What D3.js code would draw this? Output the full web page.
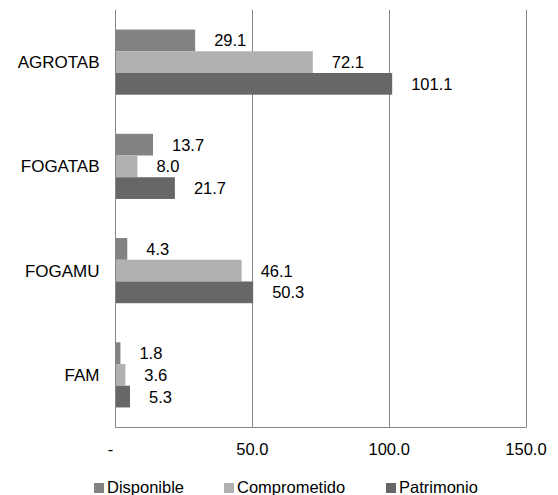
<!DOCTYPE html>
<html><head><meta charset="utf-8">
<script src="https://cdn.jsdelivr.net/npm/d3@7"></script>
<style>body{margin:0;background:#fff}svg{display:block;font-family:"Liberation Sans",Arial,sans-serif}</style>
</head><body>
<svg id="c" width="558" height="495"></svg>
<script>
const categories = ["AGROTAB","FOGATAB","FOGAMU","FAM"];
const seriesNames = ["Disponible","Comprometido","Patrimonio"];
const disponible = [29.1,13.7,4.3,1.8];
const comprometido = [72.1,8.0,46.1,3.6];
const patrimonio = [101.1,21.7,50.3,5.3];
const xTicks = [0,50,100,150];
const colors = ["#828282","#b1b1b1","#676767"];
const seriesValues = [disponible, comprometido, patrimonio];

(function(){
const svg = d3.select("#c");
const fs = 16.5;
const pL = 115.5, pR = 526, pT = 10, pB = 427;
const x = d3.scaleLinear().domain([0,150]).range([pL,pR]);
const y0 = d3.scaleBand().domain(categories).range([pT,pB]).paddingInner(0.375).paddingOuter(0.1875);
const y1 = d3.scaleBand().domain(seriesNames).range([0,y0.bandwidth()]);

svg.append("g").selectAll("line").data(xTicks.slice(1)).join("line")
  .attr("x1",d=>Math.round(x(d))+0.5).attr("x2",d=>Math.round(x(d))+0.5)
  .attr("y1",pT).attr("y2",pB).attr("stroke","#868686").attr("stroke-width",1);

const data = [];
categories.forEach((c,i)=>seriesNames.forEach((s,j)=>data.push({c,s,v:seriesValues[j][i],j})));

svg.append("g").selectAll("rect").data(data).join("rect")
  .attr("x",x(0)).attr("y",d=>y0(d.c)+y1(d.s))
  .attr("width",d=>x(d.v)-x(0)).attr("height",y1.bandwidth())
  .attr("fill",d=>colors[d.j]);

svg.append("g").selectAll("text").data(data).join("text")
  .attr("x",d=>x(d.v)+19).attr("y",d=>y0(d.c)+y1(d.s)+y1.bandwidth()/2+6)
  .attr("font-size",fs).attr("fill","#000").text(d=>d.v.toFixed(1));

svg.append("line").attr("x1",115.5).attr("x2",115.5).attr("y1",pT).attr("y2",pB).attr("stroke","#868686");
svg.append("line").attr("x1",115).attr("x2",pR+0.5).attr("y1",pB+0.5).attr("y2",pB+0.5).attr("stroke","#868686");

svg.append("g").selectAll("text").data(categories).join("text")
  .attr("x",99.5).attr("y",d=>y0(d)+y0.bandwidth()/2+6)
  .attr("text-anchor","end").attr("font-size",17).text(d=>d);

svg.append("g").selectAll("text").data(xTicks).join("text")
  .attr("x",d=>d===0?x(d)-5:x(d)).attr("y",455).attr("text-anchor","middle")
  .attr("font-size",fs).text(d=>d===0?"-":d.toFixed(1));

const legX = [94,224,386];
const lg = svg.append("g").selectAll("g").data(seriesNames).join("g")
  .attr("transform",(d,i)=>`translate(${legX[i]},483)`);
lg.append("rect").attr("width",10).attr("height",10).attr("fill",(d,i)=>colors[i]);
lg.append("text").attr("x",13).attr("y",10.3).attr("font-size",fs).text(d=>d);
})();
</script>
</body></html>
